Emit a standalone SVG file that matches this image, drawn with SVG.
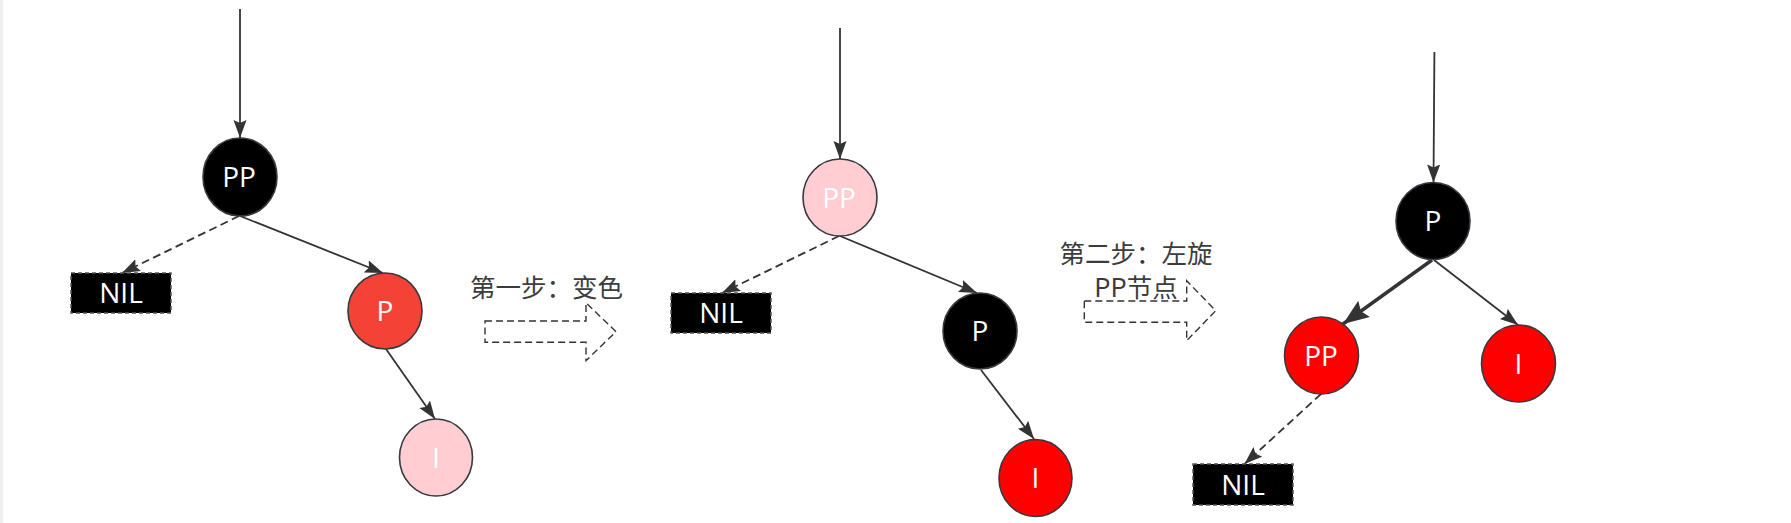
<svg xmlns="http://www.w3.org/2000/svg" width="1791" height="523" viewBox="0 0 1791 523">
<style>
.edge{fill:none;stroke:#333333;stroke-width:1.8}
.dash{stroke-dasharray:8 4.5}
.thick{stroke-width:3.4}
.node{stroke:#36393d;stroke-width:1.6}
.black{fill:#000000}
.red{fill:#ff0000}
.salmon{fill:#f44336}
.pink{fill:#ffcdd2}
.nil{fill:#000000;stroke:#555555;stroke-width:1.5;stroke-dasharray:4 3}
.lbl{font-family:"Open Sans","Noto Sans",sans-serif;font-size:28px;fill:#ffffff;text-anchor:middle}
.step{font-family:"Noto Sans CJK SC","Noto Sans",sans-serif;font-size:25.5px;fill:#3c3c3c;text-anchor:middle}
.big{fill:none;stroke:#333333;stroke-width:1.4;stroke-dasharray:7 4}
</style>
<defs>
<marker id="arr" markerUnits="userSpaceOnUse" markerWidth="20" markerHeight="14" refX="18" refY="6.5" orient="auto">
<path d="M0,0 L18,6.5 L0,13 L3,6.5 Z" fill="#333333"/>
</marker>
<marker id="arrBig" markerUnits="userSpaceOnUse" markerWidth="28" markerHeight="22" refX="26" refY="10" orient="auto">
<path d="M0,0 L26,10 L0,20 L4,10 Z" fill="#333333"/>
</marker>
</defs>
<rect x="0" y="0" width="3" height="523" fill="#eeeeee"/>

<g id="connectors">
<line class="edge" x1="240" y1="9" x2="240" y2="138" marker-end="url(#arr)"/>
<line class="edge dash" x1="239" y1="216" x2="122" y2="273" marker-end="url(#arr)"/>
<line class="edge" x1="240" y1="216" x2="383" y2="273" marker-end="url(#arr)"/>
<line class="edge" x1="386" y1="349" x2="435" y2="419" marker-end="url(#arr)"/>

<line class="edge" x1="840" y1="28" x2="840" y2="159" marker-end="url(#arr)"/>
<line class="edge dash" x1="839" y1="236" x2="722" y2="293" marker-end="url(#arr)"/>
<line class="edge" x1="840" y1="236" x2="977" y2="293" marker-end="url(#arr)"/>
<line class="edge" x1="981" y1="370" x2="1034" y2="439" marker-end="url(#arr)"/>

<line class="edge" x1="1434.4" y1="52" x2="1433.5" y2="182.5" marker-end="url(#arr)"/>
<line class="edge thick" x1="1432" y1="260" x2="1343" y2="324" marker-end="url(#arrBig)"/>
<line class="edge" x1="1434" y1="260" x2="1518" y2="325" marker-end="url(#arr)"/>
<line class="edge dash" x1="1321" y1="394" x2="1244.5" y2="464" marker-end="url(#arr)"/>
</g>

<g id="d1-pp"><ellipse class="node black" cx="240" cy="177" rx="37" ry="39"/><text class="lbl" x="239" y="187">PP</text></g>
<g id="d1-nil"><rect class="nil" x="71" y="273" width="100" height="40"/><text class="lbl" x="121" y="303">NIL</text></g>
<g id="d1-p"><ellipse class="node salmon" cx="385" cy="311" rx="37" ry="38"/><text class="lbl" x="385" y="321">P</text></g>
<g id="d1-i"><ellipse class="node pink" cx="436" cy="457.5" rx="36.5" ry="38.5"/><text class="lbl" x="436" y="467.5">I</text></g>

<g id="step1">
<text class="step" x="546.5" y="297">第一步：变色</text>
<polygon class="big" points="485,321 586,321 586,302.7 616,331.7 586,360.7 586,342.3 485,342.3"/>
</g>

<g id="d2-pp"><ellipse class="node pink" cx="840" cy="197.5" rx="37" ry="38.5"/><text class="lbl" x="839" y="207.5">PP</text></g>
<g id="d2-nil"><rect class="nil" x="671" y="293" width="100" height="40"/><text class="lbl" x="721" y="323">NIL</text></g>
<g id="d2-p"><ellipse class="node black" cx="980" cy="331" rx="37" ry="38"/><text class="lbl" x="980" y="341">P</text></g>
<g id="d2-i"><ellipse class="node red" cx="1035.5" cy="478" rx="36.5" ry="38.5"/><text class="lbl" x="1035.5" y="488">I</text></g>

<g id="step2">
<text class="step" x="1136" y="263">第二步：左旋</text>
<text class="step" x="1136" y="296.5">PP节点</text>
<polygon class="big" points="1084.3,301 1186.7,301 1186.7,280.7 1215.7,310.7 1186.7,340.7 1186.7,322.3 1084.3,322.3"/>
</g>

<g id="d3-p"><ellipse class="node black" cx="1433" cy="221" rx="37" ry="38.5"/><text class="lbl" x="1433" y="231">P</text></g>
<g id="d3-pp"><ellipse class="node red" cx="1321.5" cy="355.5" rx="37" ry="38.5"/><text class="lbl" x="1321" y="365.5">PP</text></g>
<g id="d3-i"><ellipse class="node red" cx="1518.5" cy="363.5" rx="37" ry="38.5"/><text class="lbl" x="1518.5" y="373.5">I</text></g>
<g id="d3-nil"><rect class="nil" x="1193" y="464" width="100" height="41"/><text class="lbl" x="1243" y="494.5">NIL</text></g>
</svg>
